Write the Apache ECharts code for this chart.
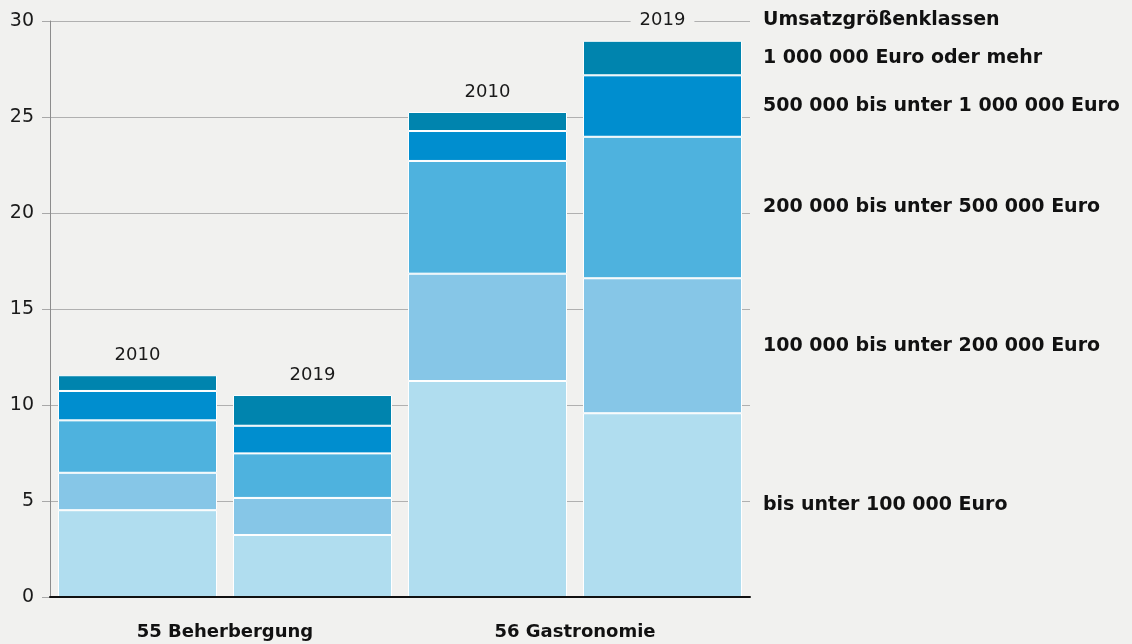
<!DOCTYPE html>
<html>
<head>
<meta charset="utf-8">
<script src="https://cdn.jsdelivr.net/npm/echarts@6/dist/echarts.min.js"></script>
<style>
  html, body { margin: 0; padding: 0; background: #f1f1ef; }
  #chart { width: 1132px; height: 644px; }
</style>
</head>
<body>
<div id="chart"></div>
<script>
// Umsatz in den Wirtschaftszweigen 55 / 56, Anteil nach Umsatzgrößenklassen
const categories = ['55 2010', '55 2019', '56 2010', '56 2019']
const years = ['2010', '2019', '2010', '2019']
const groups = ['55 Beherbergung', '56 Gastronomie']
const yTicks = [0, 5, 10, 15, 20, 25, 30]

const seriesNames = [
  'bis unter 100 000 Euro',
  '100 000 bis unter 200 000 Euro',
  '200 000 bis unter 500 000 Euro',
  '500 000 bis unter 1 000 000 Euro',
  '1 000 000 Euro oder mehr',
]
const under100k = [4.52, 3.23, 11.25, 9.57]
const under200k = [1.95, 1.93, 5.59, 7.03]
const under500k = [2.73, 2.32, 5.87, 7.37]
const under1m = [1.53, 1.44, 1.56, 3.2]
const over1m = [0.82, 1.6, 0.99, 1.8]
const values = [under100k, under200k, under500k, under1m, over1m]

const colors = ['#b0ddef', '#86c6e7', '#4eb2de', '#008ecf', '#0084ae']
const bg = '#f1f1ef'
const font = 'DejaVu Sans'

const chart = echarts.init(document.getElementById('chart'))

const stackSeries = values.map((vals, s) => ({
  name: seriesNames[s],
  type: 'bar',
  stack: 'total',
  barWidth: 159,
  itemStyle: { color: colors[s], borderColor: '#ffffff', borderWidth: 1 },
  // class labels sit right of the last bar
  data: vals.map((v, i) =>
    i === vals.length - 1
      ? {
          value: v,
          label: {
            show: true,
            position: 'right',
            distance: 21,
            formatter: seriesNames[s],
            color: '#111',
            fontFamily: font,
            fontWeight: 'bold',
            fontSize: 19,
          },
        }
      : v
  ),
}))

// empty top segment only carries the year label
stackSeries.push({
  name: 'year',
  type: 'bar',
  stack: 'total',
  barWidth: 159,
  itemStyle: { color: 'transparent', borderWidth: 0 },
  label: {
    show: true,
    position: 'top',
    distance: 10,
    formatter: (p) => years[p.dataIndex],
    color: '#1a1a1a',
    fontFamily: font,
    fontSize: 18,
    backgroundColor: bg,
    padding: [1, 9],
  },
  data: years.map(() => 0),
})

const option = {
  backgroundColor: bg,
  animation: false,
  title: {
    text: 'Umsatzgrößenklassen',
    left: 758,
    top: 6,
    textStyle: { color: '#111', fontFamily: font, fontWeight: 'bold', fontSize: 19 },
  },
  grid: { left: 50, right: 382, top: 21, bottom: 47 },
  xAxis: [
    {
      type: 'category',
      data: categories,
      axisLine: { lineStyle: { color: '#111', width: 2 } },
      axisTick: { show: false },
      axisLabel: { show: false },
      z: 10,
    },
    {
      type: 'category',
      data: groups,
      position: 'bottom',
      axisLine: { show: false },
      axisTick: { show: false },
      axisLabel: {
        margin: 26,
        color: '#111',
        fontFamily: font,
        fontWeight: 'bold',
        fontSize: 18,
      },
    },
  ],
  yAxis: {
    type: 'value',
    min: yTicks[0],
    max: yTicks[yTicks.length - 1],
    interval: 5,
    axisLine: { show: true, lineStyle: { color: '#8c8c8c' } },
    axisTick: { show: true, length: 8, lineStyle: { color: '#a8a8a8' } },
    axisLabel: { margin: 16, color: '#1a1a1a', fontFamily: font, fontSize: 19 },
    splitLine: { lineStyle: { color: '#b0b0b0' } },
  },
  series: stackSeries,
}

chart.setOption(option)
</script>
</body>
</html>
